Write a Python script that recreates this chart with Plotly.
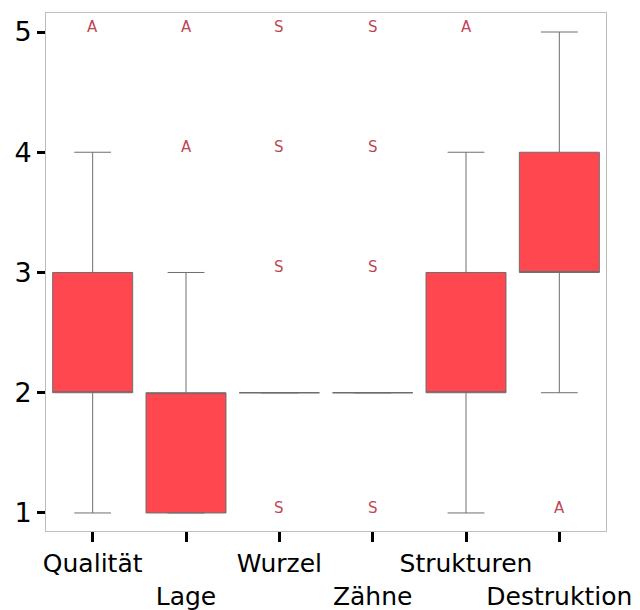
import plotly.graph_objects as go

# Box statistics per category
categories = ["Qualität", "Lage", "Wurzel", "Zähne", "Strukturen", "Destruktion"]
q1 = [2, 1, 2, 2, 2, 3]
median = [2, 2, 2, 2, 2, 3]
q3 = [3, 2, 2, 2, 3, 4]
lower_whisker = [1, 1, 2, 2, 1, 2]
upper_whisker = [4, 3, 2, 2, 4, 5]

# Outlying answers, labelled by group letter
outlier_cat = ["Qualität", "Lage", "Lage",
               "Wurzel", "Wurzel", "Wurzel", "Wurzel",
               "Zähne", "Zähne", "Zähne", "Zähne",
               "Strukturen", "Destruktion"]
outlier_val = [5, 4, 5,
               1, 3, 4, 5,
               1, 3, 4, 5,
               5, 1]
outlier_lab = ["A", "A", "A",
               "S", "S", "S", "S",
               "S", "S", "S", "S",
               "A", "A"]

# Alternate tick labels between two rows so they don't collide
tick_text = [c if i % 2 == 0 else "<br>" + c for i, c in enumerate(categories)]

FONT = "DejaVu Sans"

fig = go.Figure()
fig.add_trace(go.Box(
    x=categories,
    q1=q1,
    median=median,
    q3=q3,
    lowerfence=lower_whisker,
    upperfence=upper_whisker,
    boxpoints=False,
    fillcolor="#ff4750",
    line=dict(color="#6e6e6e", width=1),
    width=0.857,
    whiskerwidth=0.46,
    hoverinfo="skip",
    showlegend=False,
))

# Outliers drawn as their group letter, sitting just on the value
for cat, val, lab in zip(outlier_cat, outlier_val, outlier_lab):
    fig.add_annotation(
        x=cat, y=val, xref="x", yref="y",
        text=lab, showarrow=False,
        xanchor="center", yanchor="middle", yshift=5,
        font=dict(family=FONT, size=15, color="#bf4654"),
    )

fig.update_layout(
    width=640,
    height=610,
    margin=dict(l=46, r=34, t=13, b=79),
    paper_bgcolor="white",
    plot_bgcolor="white",
    font=dict(family=FONT, color="black"),
    showlegend=False,
)
fig.update_xaxes(
    type="category",
    categoryorder="array",
    categoryarray=categories,
    tickmode="array",
    tickvals=categories,
    ticktext=tick_text,
    tickangle=0,
    automargin=False,
    range=[-0.5, 5.5],
    showgrid=False,
    zeroline=False,
    showline=True,
    linecolor="#bdbdbd",
    linewidth=1,
    mirror=True,
    ticks="outside",
    ticklen=10,
    tickwidth=3,
    tickcolor="black",
    tickfont=dict(family=FONT, size=25, color="black"),
)
fig.update_yaxes(
    range=[0.85, 5.158],
    tickvals=[1, 2, 3, 4, 5],
    automargin=False,
    showgrid=False,
    zeroline=False,
    showline=True,
    linecolor="#bdbdbd",
    linewidth=1,
    mirror=True,
    ticks="outside",
    ticklen=8,
    tickwidth=3,
    tickcolor="black",
    tickfont=dict(family=FONT, size=27, color="black"),
)

fig.write_html("out.html")
